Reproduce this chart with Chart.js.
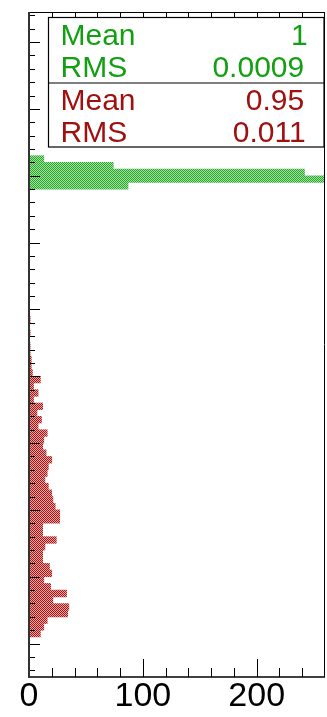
<!DOCTYPE html>
<html>
<head>
<meta charset="utf-8">
<script src="https://cdn.jsdelivr.net/npm/chart.js@4.4.1/dist/chart.umd.min.js"></script>
<style>
  html, body { margin: 0; padding: 0; background: #fff; }
  #wrap { width: 327px; height: 717px; position: relative; }
  canvas { display: block; }
</style>
</head>
<body>
<div id="wrap"><canvas id="c" width="327" height="717"></canvas></div>
<script>
// Bin centres (bin width 0.001) and entries per bin
const greenBins   = [0.9985, 0.9995, 1.0005, 1.0015, 1.0025];
const greenCounts = [87, 266, 242, 74, 13];

const redBins = [
  0.9315, 0.9325, 0.9335, 0.9345, 0.9355, 0.9365, 0.9375, 0.9385, 0.9395, 0.9405,
  0.9415, 0.9425, 0.9435, 0.9445, 0.9455, 0.9465, 0.9475, 0.9485, 0.9495, 0.9505,
  0.9515, 0.9525, 0.9535, 0.9545, 0.9555, 0.9565, 0.9575, 0.9585, 0.9595, 0.9605,
  0.9615, 0.9625, 0.9635, 0.9645, 0.9655, 0.9665, 0.9675, 0.9685, 0.9695, 0.9705,
  0.9715, 0.9725, 0.9735, 0.9745, 0.9755, 0.9765, 0.9775, 0.9785
];
const redCounts = [
  10, 13, 16, 34, 35, 21, 33, 19, 13, 20,
  18, 12, 12, 14, 24, 12, 12, 27, 27, 23,
  21, 20, 17, 14, 16, 17, 20, 15, 12, 13,
  16, 8, 11, 7, 12, 4, 8, 4, 10, 3,
  2, 2, 1, 1, 0, 1, 0, 1
];

const xTickLabels = [0, 100, 200];
const statNames  = ['Mean', 'RMS'];
const greenStats = ['1', '0.0009'];
const redStats   = ['0.95', '0.011'];

const GREEN_TEXT = '#12a012';
const RED_TEXT   = '#a01010';

const canvas = document.getElementById('c');
const mainCtx = canvas.getContext('2d');

// ROOT-like dotted fill: a 2x2 checker of ink and paper
function hatch(ink, paper) {
  const t = document.createElement('canvas');
  t.width = 2; t.height = 2;
  const g = t.getContext('2d');
  g.fillStyle = paper; g.fillRect(0, 0, 2, 2);
  g.fillStyle = ink; g.fillRect(0, 0, 1, 1); g.fillRect(1, 1, 1, 1);
  return mainCtx.createPattern(t, 'repeat');
}

const toPoints = (bins, counts) => bins.map((b, i) => ({ x: counts[i], y: b }));

// Frame, axis lines and major/minor tick marks
const framePlugin = {
  id: 'frame',
  afterDatasetsDraw(chart) {
    const { ctx, chartArea: a, scales: { x, y } } = chart;
    ctx.save();
    ctx.strokeStyle = '#000';
    ctx.lineWidth = 1;
    const seg = (x1, y1, x2, y2) => { ctx.beginPath(); ctx.moveTo(x1, y1); ctx.lineTo(x2, y2); ctx.stroke(); };

    // outer frame (top and right)
    seg(a.left, a.top + 0.5, a.right, a.top + 0.5);
    seg(a.right - 0.5, a.top, a.right - 0.5, a.bottom);

    // left axis ticks every 0.002, long every 0.01
    for (let k = 926; k <= 1024; k += 2) {
      const py = Math.round(y.getPixelForValue(k / 1000)) + 0.5;
      const len = (k % 10 === 0) ? 11 : 6;
      seg(a.left, py, a.left + len, py);
    }
    // bottom and top axis ticks every 20, long every 100
    for (let v = 20; v <= 260; v += 20) {
      const px = Math.round(x.getPixelForValue(v)) + 0.5;
      if (px > a.right - 1) continue;
      const len = (v % 100 === 0) ? 18 : 9;
      seg(px, a.bottom, px, a.bottom - len);
      seg(px, a.top, px, a.top + len);
    }
    // axis lines
    ctx.lineWidth = 1.5;
    seg(a.left, a.bottom, a.right, a.bottom);
    ctx.strokeStyle = '#333';
    ctx.lineWidth = 2;
    seg(a.left, a.top, a.left, a.bottom + 1);
    ctx.restore();
  },
  afterDraw(chart) {
    // statistics box
    const ctx = chart.ctx;
    ctx.save();
    const L = 48.5, R = 324, T = 17.5, B = 147, MID = 83;
    ctx.fillStyle = '#fff';
    ctx.fillRect(L, T, R - L, B - T);
    ctx.strokeStyle = '#000';
    ctx.lineWidth = 1.2;
    ctx.strokeRect(L, T, R - L, B - T);
    ctx.beginPath(); ctx.moveTo(L, MID); ctx.lineTo(R, MID); ctx.stroke();

    ctx.font = '30px "Liberation Sans", Arial, sans-serif';
    ctx.textBaseline = 'alphabetic';
    const rows = [
      { name: statNames[0], val: greenStats[0], color: GREEN_TEXT, base: 45,    right: 307 },
      { name: statNames[1], val: greenStats[1], color: GREEN_TEXT, base: 76.5,  right: 303.5 },
      { name: statNames[0], val: redStats[0],   color: RED_TEXT,   base: 110,   right: 303.5 },
      { name: statNames[1], val: redStats[1],   color: RED_TEXT,   base: 141.5, right: 305 }
    ];
    for (const r of rows) {
      ctx.fillStyle = r.color;
      ctx.textAlign = 'left';
      ctx.fillText(r.name, 60.5, r.base);
      const m = ctx.measureText(r.val);
      ctx.fillText(r.val, r.right - m.actualBoundingBoxRight, r.base);
    }
    ctx.restore();
  }
};

new Chart(canvas, {
  type: 'bar',
  data: {
    datasets: [
      {
        label: 'green',
        data: toPoints(greenBins, greenCounts),
        backgroundColor: hatch('#22a822', '#a8dea8'),
        borderWidth: 0,
        grouped: false,
        barPercentage: 1,
        categoryPercentage: 1
      },
      {
        label: 'red',
        data: toPoints(redBins, redCounts),
        backgroundColor: hatch('#a81414', '#e2a8a8'),
        borderWidth: 0,
        grouped: false,
        barPercentage: 1,
        categoryPercentage: 1
      }
    ]
  },
  options: {
    indexAxis: 'y',
    responsive: false,
    animation: false,
    events: [],
    layout: { padding: { left: 29, right: 2, top: 12, bottom: 0 } },
    plugins: { legend: { display: false }, tooltip: { enabled: false } },
    scales: {
      y: {
        type: 'linear',
        min: 0.925,
        max: 1.0245,
        offset: false,
        grid: { offset: false },
        display: false
      },
      x: {
        type: 'linear',
        min: 0,
        max: 260,
        grid: { display: false, drawTicks: false },
        border: { display: false },
        afterBuildTicks: (scale) => { scale.ticks = xTickLabels.map(v => ({ value: v })); },
        ticks: {
          autoSkip: false,
          maxRotation: 0,
          padding: 3,
          color: '#000',
          font: { family: '"Liberation Sans", Arial, sans-serif', size: 34, lineHeight: 1 },
          callback: (v) => String(v)
        }
      }
    }
  },
  plugins: [framePlugin]
});
</script>
</body>
</html>
